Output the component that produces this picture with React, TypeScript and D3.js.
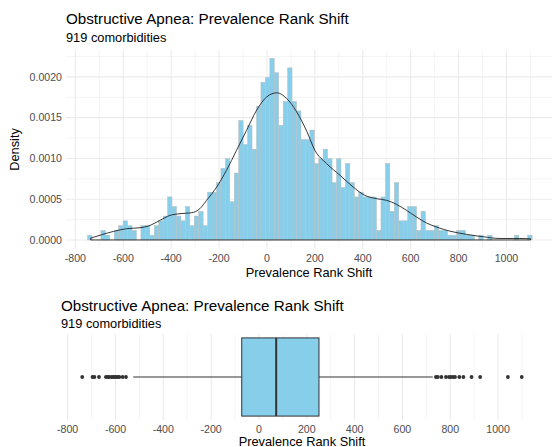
import * as d3 from 'd3';
import React from 'react';

// Texte
const title = 'Obstructive Apnea: Prevalence Rank Shift';
const subtitle = '919 comorbidities';
const xLabel = 'Prevalence Rank Shift';
const yLabel = 'Density';

// Histogramme (100 classes)
const nTotal = 919;
const binStart = -749;
const binWidth = 18.56;
const binCounts = [
  1, 0, 0, 2, 1, 0, 2, 3, 4, 3, 2, 0, 3, 3, 1, 3, 4, 5, 9, 7,
  5, 4, 7, 3, 5, 6, 3, 10, 10, 12, 15, 17, 8, 14, 25, 20, 24, 19, 28, 33,
  34, 38, 35, 24, 29, 36, 29, 27, 21, 21, 23, 16, 17, 19, 17, 12, 17, 11, 16, 12,
  9, 10, 9, 9, 9, 2, 9, 16, 6, 12, 4, 4, 7, 7, 2, 6, 2, 2, 3, 2,
  2, 1, 1, 2, 2, 1, 1, 0, 1, 0, 1, 0, 0, 0, 0, 0, 1, 0, 0, 1,
];

// Courbe de densité
const densityX = [
  -736, -690, -642, -586, -530, -496, -447, -405, -363, -314, -280, -252, -210, -169,
  -127, -85, -43, -1, 41, 82, 124, 166, 200, 249, 305, 360, 409, 458, 500, 541, 583,
  625, 667, 709, 764, 834, 903, 973, 1056, 1100,
];
const densityY = [
  0.22, 0.64, 1.04, 1.38, 1.5, 1.7, 2.4, 3.01, 3.22, 3.34, 3.84, 4.86, 6.49, 8.54,
  11.0, 13.46, 15.92, 17.55, 18.05, 17.36, 15.71, 13.34, 11.0, 9.37, 7.93, 6.49, 5.47,
  5.06, 4.86, 4.36, 3.63, 2.8, 2.07, 1.57, 1.08, 0.68, 0.39, 0.18, 0.18, 0.15,
].map((d) => d / 10000);

// Graduations
const xTicks = [-800, -600, -400, -200, 0, 200, 400, 600, 800, 1000];
const xMinor = [-700, -500, -300, -100, 100, 300, 500, 700, 900, 1100];
const yTicks = [0, 0.0005, 0.001, 0.0015, 0.002];
const yMinor = [0.00025, 0.00075, 0.00125, 0.00175, 0.00225];

// Boîte à moustaches
const boxStats = { low: -526, q1: -72, median: 72, q3: 251, high: 727 };
const outliersLow = [
  -739, -696, -688, -669, -640, -632, -626, -616, -609, -603, -597, -590, -584, -570, -556,
];
const outliersHigh = [
  740, 748, 763, 782, 795, 803, 812, 820, 838, 855, 889, 925, 1041, 1099,
];

const FONT = '"Liberation Sans", Arial, sans-serif';
const GRID = '#EBEBEB';
const FILL = '#87CEEB';

const App: React.FC = () => {
  const width = 555;
  const height = 447;

  // Panneau du haut
  const top = { left: 66, right: 552, top: 50, bottom: 249 };
  const x1 = d3.scaleLinear().domain([-839, 1190]).range([top.left, top.right]);
  const y1 = d3.scaleLinear().domain([-0.000111, 0.00233]).range([top.bottom, top.top]);

  const bins = binCounts.map((c, i) => ({
    x0: binStart + i * binWidth,
    x1: binStart + (i + 1) * binWidth,
    density: c / (nTotal * binWidth),
    count: c,
  }));

  const densityPts = densityX.map((x, i) => ({ x, y: densityY[i] }));
  const densityArea = d3
    .area<{ x: number; y: number }>()
    .x((d) => x1(d.x))
    .y0(y1(0))
    .y1((d) => y1(d.y))
    .curve(d3.curveMonotoneX);

  // Panneau du bas
  const bot = { left: 60, right: 544, top: 334, bottom: 420 };
  const x2 = d3.scaleLinear().domain([-832, 1192]).range([bot.left, bot.right]);
  const y2 = d3.scaleBand().domain(['a']).range([bot.top, bot.bottom]).paddingInner(0).paddingOuter(0.05);
  const boxTop = y2('a') as number;
  const boxH = y2.bandwidth();
  const boxMid = boxTop + boxH / 2;
  const fmtY = d3.format('.4f');

  return (
    <svg
      width={width}
      height={height}
      style={{ position: 'absolute', left: 0, top: 0, background: '#fff' }}
      fontFamily={FONT}
    >
      {/* Titres du haut */}
      <text x={top.left} y={24} fontSize={15.2} fill="#000">{title}</text>
      <text x={top.left} y={42} fontSize={12.8} fill="#000">{subtitle}</text>

      {/* Grille */}
      {yMinor.map((t) => (
        <line key={'ym' + t} x1={top.left} x2={top.right} y1={y1(t)} y2={y1(t)} stroke={GRID} strokeWidth={0.55} />
      ))}
      {xMinor.map((t) => (
        <line key={'xm' + t} x1={x1(t)} x2={x1(t)} y1={top.top} y2={top.bottom} stroke={GRID} strokeWidth={0.55} />
      ))}
      {yTicks.map((t) => (
        <line key={'y' + t} x1={top.left} x2={top.right} y1={y1(t)} y2={y1(t)} stroke={GRID} strokeWidth={1.1} />
      ))}
      {xTicks.map((t) => (
        <line key={'x' + t} x1={x1(t)} x2={x1(t)} y1={top.top} y2={top.bottom} stroke={GRID} strokeWidth={1.1} />
      ))}

      {/* Barres */}
      {bins
        .filter((b) => b.count > 0)
        .map((b, i) => (
          <rect
            key={'b' + i}
            x={x1(b.x0)}
            y={y1(b.density)}
            width={x1(b.x1) - x1(b.x0)}
            height={y1(0) - y1(b.density)}
            fill={FILL}
            stroke="#BEBEBE"
            strokeWidth={0.5}
          />
        ))}

      {/* Densité */}
      <path d={densityArea(densityPts) || ''} fill="none" stroke="#222" strokeWidth={0.9} />

      {/* Axes du haut */}
      {yTicks.map((t) => (
        <text key={'yl' + t} x={top.left - 4} y={y1(t)} dy="0.35em" textAnchor="end" fontSize={10.6} fill="#4D4D4D">
          {fmtY(t)}
        </text>
      ))}
      {xTicks.map((t) => (
        <text key={'xl' + t} x={x1(t)} y={262} textAnchor="middle" fontSize={10.6} fill="#4D4D4D">
          {t}
        </text>
      ))}
      <text x={(top.left + top.right) / 2} y={277} textAnchor="middle" fontSize={12.8} fill="#000">
        {xLabel}
      </text>
      <text
        transform={`translate(${19},${(top.top + top.bottom) / 2}) rotate(-90)`}
        textAnchor="middle"
        fontSize={12.8}
        fill="#000"
      >
        {yLabel}
      </text>

      {/* Titres du bas */}
      <text x={61} y={310.5} fontSize={15.2} fill="#000">{title}</text>
      <text x={61} y={327.5} fontSize={12.8} fill="#000">{subtitle}</text>

      {xMinor.map((t) => (
        <line key={'bxm' + t} x1={x2(t)} x2={x2(t)} y1={bot.top} y2={bot.bottom} stroke={GRID} strokeWidth={0.55} />
      ))}
      {xTicks.map((t) => (
        <line key={'bx' + t} x1={x2(t)} x2={x2(t)} y1={bot.top} y2={bot.bottom} stroke={GRID} strokeWidth={1.1} />
      ))}

      {/* Moustaches */}
      <line x1={x2(boxStats.low)} x2={x2(boxStats.q1)} y1={boxMid} y2={boxMid} stroke="#333" strokeWidth={1} />
      <line x1={x2(boxStats.q3)} x2={x2(boxStats.high)} y1={boxMid} y2={boxMid} stroke="#333" strokeWidth={1} />
      <rect
        x={x2(boxStats.q1)}
        y={boxTop}
        width={x2(boxStats.q3) - x2(boxStats.q1)}
        height={boxH}
        fill={FILL}
        stroke="#333"
        strokeWidth={1}
      />
      <line x1={x2(boxStats.median)} x2={x2(boxStats.median)} y1={boxTop} y2={boxTop + boxH} stroke="#333" strokeWidth={2} />
      {[...outliersLow, ...outliersHigh].map((v, i) => (
        <circle key={'o' + i} cx={x2(v)} cy={boxMid} r={1.9} fill="#333" />
      ))}

      {xTicks.map((t) => (
        <text key={'bxl' + t} x={x2(t)} y={432.5} textAnchor="middle" fontSize={10.6} fill="#4D4D4D">
          {t}
        </text>
      ))}
      <text x={(bot.left + bot.right) / 2} y={445.5} textAnchor="middle" fontSize={12.8} fill="#000">
        {xLabel}
      </text>
    </svg>
  );
};

export default App;
